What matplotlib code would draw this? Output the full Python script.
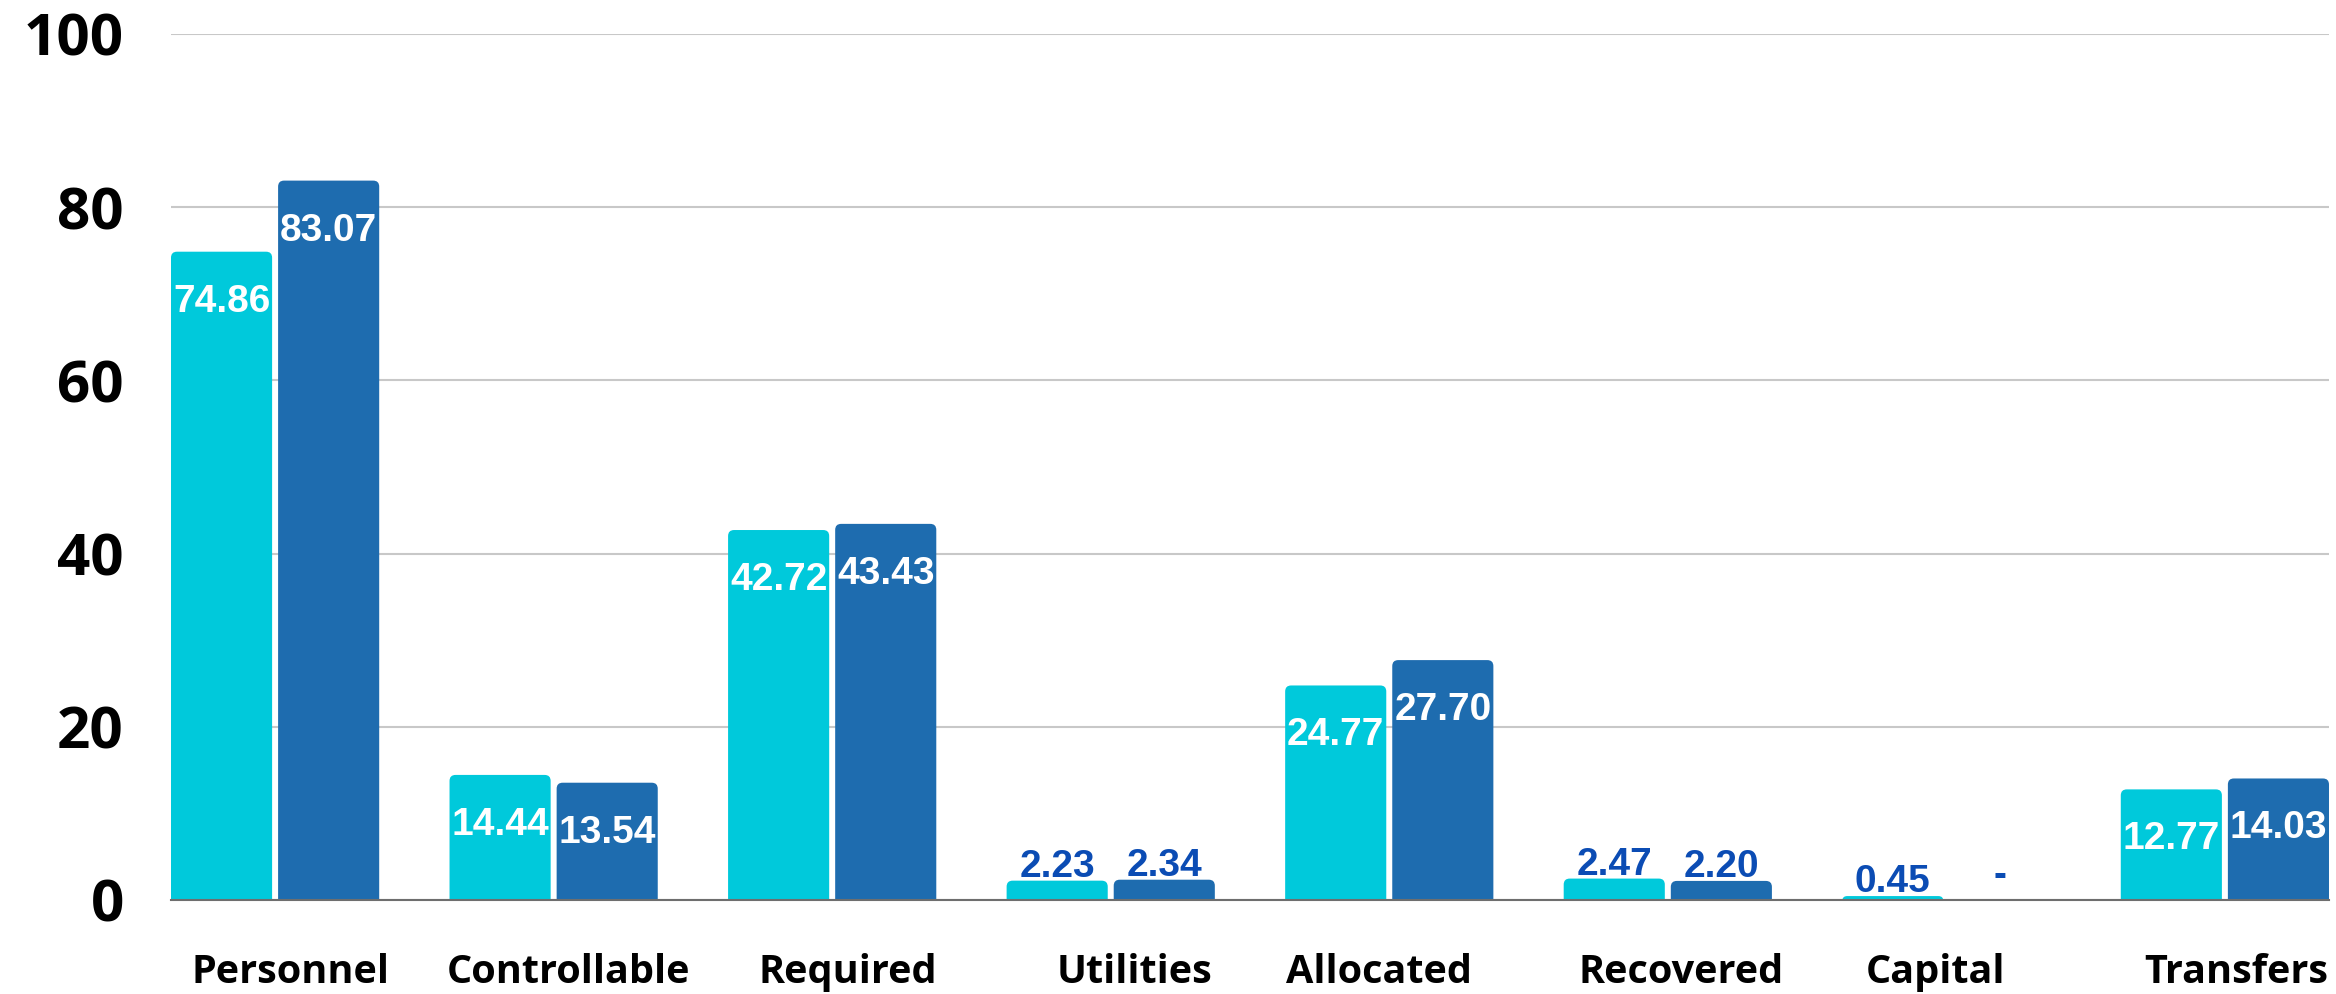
import numpy as np
import matplotlib.pyplot as plt
from matplotlib.patches import FancyBboxPatch

# data
categories = ["Personnel", "Controllable", "Required", "Utilities",
              "Allocated", "Recovered", "Capital", "Transfers"]
series_a = [74.86, 14.44, 42.72, 2.23, 24.77, 2.47, 0.45, 12.77]
series_b = [83.07, 13.54, 43.43, 2.34, 27.70, 2.20, np.nan, 14.03]  # Capital: no value
y_ticks = [0, 20, 40, 60, 80, 100]

CYAN = "#00c9db"
BLUE = "#1e6caf"
LABEL_BLUE = "#0b4cb4"
DPI = 100

fig = plt.figure(figsize=(23.36, 9.94), dpi=DPI)
ax_rect = [0.0732, 0.0946, 0.9238, 0.8712]
ax = fig.add_axes(ax_rect)

x = np.arange(len(categories))
w = 0.363
gap = 0.0215
off = (w + gap) / 2

bars_a = ax.bar(x - off, series_a, w, color=CYAN)
bars_b = ax.bar(x + off, np.nan_to_num(series_b), w, color=BLUE)

xlim = (-w - gap / 2, len(categories) - 1 + w + gap / 2)
ax.set_xlim(*xlim)
ax.set_ylim(0, 100)

# rounded top corners: swap the plain rectangles for round boxes
px_x = 23.36 * DPI * ax_rect[2] / (xlim[1] - xlim[0])
px_y = 9.94 * DPI * ax_rect[3] / 100.0
r = 6 / px_x
aspect = px_x / px_y
for rect in list(bars_a) + list(bars_b):
    h = rect.get_height()
    rect.set_visible(False)
    if not h > 0:
        continue
    y0 = -r * aspect
    htot = h - y0
    rr = min(r, htot / aspect / 2, rect.get_width() / 2)
    patch = FancyBboxPatch((rect.get_x(), y0), rect.get_width(), htot,
                           boxstyle=f"round,pad=0,rounding_size={rr}",
                           mutation_aspect=aspect,
                           fc=rect.get_facecolor(), ec="none", zorder=2)
    ax.add_patch(patch)

# grid / spines
ax.set_yticks(y_ticks)
ax.grid(axis="y", color="#c8c8c8", linewidth=1.5)
ax.set_axisbelow(True)
for s in ["top", "right", "left"]:
    ax.spines[s].set_visible(False)
ax.spines["bottom"].set_color("#6e6e6e")
ax.spines["bottom"].set_linewidth(1.5)
ax.spines["bottom"].set_zorder(3)

ax.tick_params(axis="y", length=0, pad=34)
ax.tick_params(axis="x", length=0)
for lab in ax.get_yticklabels():
    lab.set_fontfamily("Open Sans")
    lab.set_fontweight("bold")
    lab.set_fontsize(42)

# category labels (slightly nudged as in the original)
ax.set_xticks(x, [""] * len(categories))
nudge = [15, 15, 16, 24, -10, 13, -11, 11]
for i, name in enumerate(categories):
    ax.annotate(name, xy=(x[i], 0), xycoords=("data", "axes fraction"),
                xytext=(nudge[i], -83), textcoords="offset pixels",
                ha="center", va="baseline", fontsize=28.5,
                family="Open Sans", fontweight="bold", color="black")

# value labels
VAL_FONT = dict(family="Liberation Sans", fontsize=28, fontweight="bold")


def label(xc, v):
    if np.isnan(v):
        ax.annotate("-", xy=(xc, 0), xytext=(0, 14), textcoords="offset pixels",
                    ha="center", va="baseline", color=LABEL_BLUE, **VAL_FONT)
    elif v > 5:
        ax.annotate(f"{v:.2f}", xy=(xc, v), xytext=(0, -60), textcoords="offset pixels",
                    ha="center", va="baseline", color="white", zorder=4, **VAL_FONT)
    else:
        ax.annotate(f"{v:.2f}", xy=(xc, v), xytext=(0, 4), textcoords="offset pixels",
                    ha="center", va="baseline", color=LABEL_BLUE, zorder=4, **VAL_FONT)


for i in range(len(categories)):
    label(x[i] - off, series_a[i])
    label(x[i] + off, series_b[i])

plt.savefig("out.png", dpi=DPI)
plt.close()
